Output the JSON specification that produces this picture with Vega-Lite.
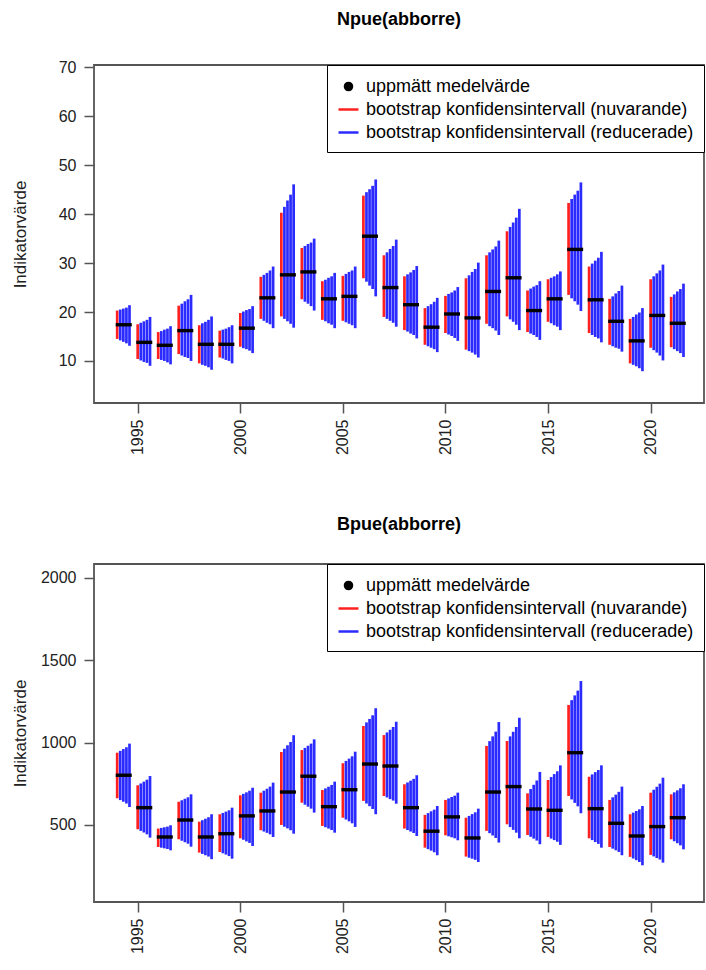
{
"$schema": "https://vega.github.io/schema/vega-lite/v6.json",
"padding": {"left": 10, "top": 10, "right": 0, "bottom": 0},
"config": {"font": "Liberation Sans", "view": {"stroke": "#555", "strokeWidth": 1.8}},
"datasets": {
"nb": [
{"y":1994,"k":0,"lo":14.5,"hi":20.3},{"y":1994,"k":1,"lo":14.2,"hi":20.5},{"y":1994,"k":2,"lo":13.9,"hi":20.7},{"y":1994,"k":3,"lo":13.6,"hi":20.9},{"y":1994,"k":4,"lo":13.1,"hi":21.4},
{"y":1995,"k":0,"lo":10.4,"hi":17.5},{"y":1995,"k":1,"lo":10.1,"hi":17.8},{"y":1995,"k":2,"lo":9.8,"hi":18.1},{"y":1995,"k":3,"lo":9.6,"hi":18.4},{"y":1995,"k":4,"lo":9.0,"hi":19.0},
{"y":1996,"k":0,"lo":10.4,"hi":15.9},{"y":1996,"k":1,"lo":10.2,"hi":16.1},{"y":1996,"k":2,"lo":10.0,"hi":16.4},{"y":1996,"k":3,"lo":9.7,"hi":16.6},{"y":1996,"k":4,"lo":9.3,"hi":17.1},
{"y":1997,"k":0,"lo":11.4,"hi":21.3},{"y":1997,"k":1,"lo":11.1,"hi":21.7},{"y":1997,"k":2,"lo":10.8,"hi":22.2},{"y":1997,"k":3,"lo":10.6,"hi":22.6},{"y":1997,"k":4,"lo":10.0,"hi":23.5},
{"y":1998,"k":0,"lo":9.5,"hi":17.3},{"y":1998,"k":1,"lo":9.2,"hi":17.7},{"y":1998,"k":2,"lo":9.0,"hi":18.0},{"y":1998,"k":3,"lo":8.7,"hi":18.4},{"y":1998,"k":4,"lo":8.2,"hi":19.1},
{"y":1999,"k":0,"lo":10.7,"hi":16.2},{"y":1999,"k":1,"lo":10.5,"hi":16.4},{"y":1999,"k":2,"lo":10.2,"hi":16.6},{"y":1999,"k":3,"lo":10.0,"hi":16.9},{"y":1999,"k":4,"lo":9.5,"hi":17.3},
{"y":2000,"k":0,"lo":12.9,"hi":19.8},{"y":2000,"k":1,"lo":12.6,"hi":20.1},{"y":2000,"k":2,"lo":12.4,"hi":20.4},{"y":2000,"k":3,"lo":12.1,"hi":20.6},{"y":2000,"k":4,"lo":11.6,"hi":21.2},
{"y":2001,"k":0,"lo":18.6,"hi":27.2},{"y":2001,"k":1,"lo":18.2,"hi":27.6},{"y":2001,"k":2,"lo":17.8,"hi":28.0},{"y":2001,"k":3,"lo":17.5,"hi":28.5},{"y":2001,"k":4,"lo":16.7,"hi":29.3},
{"y":2002,"k":0,"lo":19.1,"hi":40.3},{"y":2002,"k":1,"lo":18.6,"hi":41.5},{"y":2002,"k":2,"lo":18.1,"hi":42.8},{"y":2002,"k":3,"lo":17.6,"hi":44.0},{"y":2002,"k":4,"lo":16.8,"hi":46.1},
{"y":2003,"k":0,"lo":22.6,"hi":33.1},{"y":2003,"k":1,"lo":22.1,"hi":33.5},{"y":2003,"k":2,"lo":21.7,"hi":33.9},{"y":2003,"k":3,"lo":21.2,"hi":34.2},{"y":2003,"k":4,"lo":20.3,"hi":35.0},
{"y":2004,"k":0,"lo":18.4,"hi":26.3},{"y":2004,"k":1,"lo":18.1,"hi":26.6},{"y":2004,"k":2,"lo":17.7,"hi":27.0},{"y":2004,"k":3,"lo":17.4,"hi":27.3},{"y":2004,"k":4,"lo":16.7,"hi":28.0},
{"y":2005,"k":0,"lo":18.2,"hi":27.4},{"y":2005,"k":1,"lo":17.9,"hi":27.8},{"y":2005,"k":2,"lo":17.6,"hi":28.2},{"y":2005,"k":3,"lo":17.3,"hi":28.5},{"y":2005,"k":4,"lo":16.7,"hi":29.3},
{"y":2006,"k":0,"lo":26.9,"hi":43.8},{"y":2006,"k":1,"lo":26.2,"hi":44.5},{"y":2006,"k":2,"lo":25.4,"hi":45.1},{"y":2006,"k":3,"lo":24.7,"hi":45.8},{"y":2006,"k":4,"lo":23.2,"hi":47.1},
{"y":2007,"k":0,"lo":19.0,"hi":31.6},{"y":2007,"k":1,"lo":18.6,"hi":32.2},{"y":2007,"k":2,"lo":18.2,"hi":32.9},{"y":2007,"k":3,"lo":17.8,"hi":33.5},{"y":2007,"k":4,"lo":17.0,"hi":34.8},
{"y":2008,"k":0,"lo":16.3,"hi":27.3},{"y":2008,"k":1,"lo":16.0,"hi":27.7},{"y":2008,"k":2,"lo":15.6,"hi":28.1},{"y":2008,"k":3,"lo":15.3,"hi":28.6},{"y":2008,"k":4,"lo":14.6,"hi":29.4},
{"y":2009,"k":0,"lo":13.3,"hi":20.8},{"y":2009,"k":1,"lo":13.0,"hi":21.2},{"y":2009,"k":2,"lo":12.7,"hi":21.6},{"y":2009,"k":3,"lo":12.4,"hi":22.1},{"y":2009,"k":4,"lo":11.8,"hi":22.9},
{"y":2010,"k":0,"lo":15.7,"hi":23.3},{"y":2010,"k":1,"lo":15.4,"hi":23.7},{"y":2010,"k":2,"lo":15.1,"hi":24.0},{"y":2010,"k":3,"lo":14.7,"hi":24.4},{"y":2010,"k":4,"lo":14.1,"hi":25.1},
{"y":2011,"k":0,"lo":12.3,"hi":26.9},{"y":2011,"k":1,"lo":12.0,"hi":27.5},{"y":2011,"k":2,"lo":11.7,"hi":28.2},{"y":2011,"k":3,"lo":11.3,"hi":28.8},{"y":2011,"k":4,"lo":10.7,"hi":30.1},
{"y":2012,"k":0,"lo":17.6,"hi":31.6},{"y":2012,"k":1,"lo":17.1,"hi":32.2},{"y":2012,"k":2,"lo":16.7,"hi":32.8},{"y":2012,"k":3,"lo":16.2,"hi":33.4},{"y":2012,"k":4,"lo":15.3,"hi":34.6},
{"y":2013,"k":0,"lo":19.1,"hi":36.5},{"y":2013,"k":1,"lo":18.5,"hi":37.4},{"y":2013,"k":2,"lo":18.0,"hi":38.3},{"y":2013,"k":3,"lo":17.4,"hi":39.3},{"y":2013,"k":4,"lo":16.3,"hi":41.1},
{"y":2014,"k":0,"lo":15.9,"hi":24.4},{"y":2014,"k":1,"lo":15.6,"hi":24.8},{"y":2014,"k":2,"lo":15.3,"hi":25.2},{"y":2014,"k":3,"lo":14.9,"hi":25.5},{"y":2014,"k":4,"lo":14.3,"hi":26.3},
{"y":2015,"k":0,"lo":18.0,"hi":26.7},{"y":2015,"k":1,"lo":17.7,"hi":27.0},{"y":2015,"k":2,"lo":17.3,"hi":27.3},{"y":2015,"k":3,"lo":17.0,"hi":27.7},{"y":2015,"k":4,"lo":16.3,"hi":28.3},
{"y":2016,"k":0,"lo":23.5,"hi":42.3},{"y":2016,"k":1,"lo":22.8,"hi":43.1},{"y":2016,"k":2,"lo":22.2,"hi":44.0},{"y":2016,"k":3,"lo":21.5,"hi":44.8},{"y":2016,"k":4,"lo":20.2,"hi":46.5},
{"y":2017,"k":0,"lo":15.7,"hi":29.3},{"y":2017,"k":1,"lo":15.3,"hi":29.9},{"y":2017,"k":2,"lo":14.9,"hi":30.5},{"y":2017,"k":3,"lo":14.6,"hi":31.1},{"y":2017,"k":4,"lo":13.8,"hi":32.3},
{"y":2018,"k":0,"lo":13.3,"hi":22.7},{"y":2018,"k":1,"lo":13.0,"hi":23.2},{"y":2018,"k":2,"lo":12.7,"hi":23.8},{"y":2018,"k":3,"lo":12.5,"hi":24.3},{"y":2018,"k":4,"lo":11.9,"hi":25.4},
{"y":2019,"k":0,"lo":9.5,"hi":18.6},{"y":2019,"k":1,"lo":9.2,"hi":19.0},{"y":2019,"k":2,"lo":8.9,"hi":19.5},{"y":2019,"k":3,"lo":8.5,"hi":19.9},{"y":2019,"k":4,"lo":7.9,"hi":20.8},
{"y":2020,"k":0,"lo":12.7,"hi":26.7},{"y":2020,"k":1,"lo":12.2,"hi":27.3},{"y":2020,"k":2,"lo":11.7,"hi":27.9},{"y":2020,"k":3,"lo":11.1,"hi":28.5},{"y":2020,"k":4,"lo":10.1,"hi":29.7},
{"y":2021,"k":0,"lo":12.8,"hi":23.1},{"y":2021,"k":1,"lo":12.4,"hi":23.6},{"y":2021,"k":2,"lo":12.0,"hi":24.2},{"y":2021,"k":3,"lo":11.6,"hi":24.7},{"y":2021,"k":4,"lo":10.8,"hi":25.8}
],
"nm": [
{"y":1994,"m":17.4},{"y":1995,"m":13.8},{"y":1996,"m":13.2},{"y":1997,"m":16.2},{"y":1998,"m":13.4},{"y":1999,"m":13.4},{"y":2000,"m":16.7},
{"y":2001,"m":22.9},{"y":2002,"m":27.6},{"y":2003,"m":28.2},{"y":2004,"m":22.7},{"y":2005,"m":23.2},{"y":2006,"m":35.5},{"y":2007,"m":25.0},
{"y":2008,"m":21.5},{"y":2009,"m":16.9},{"y":2010,"m":19.6},{"y":2011,"m":18.8},{"y":2012,"m":24.2},{"y":2013,"m":27.0},{"y":2014,"m":20.3},
{"y":2015,"m":22.7},{"y":2016,"m":32.8},{"y":2017,"m":22.5},{"y":2018,"m":18.1},{"y":2019,"m":14.1},{"y":2020,"m":19.3},{"y":2021,"m":17.7}
],
"bb": [
{"y":1994,"k":0,"lo":662,"hi":939},{"y":1994,"k":1,"lo":651,"hi":950},{"y":1994,"k":2,"lo":641,"hi":961},{"y":1994,"k":3,"lo":630,"hi":972},{"y":1994,"k":4,"lo":609,"hi":994},
{"y":1995,"k":0,"lo":474,"hi":741},{"y":1995,"k":1,"lo":464,"hi":752},{"y":1995,"k":2,"lo":454,"hi":763},{"y":1995,"k":3,"lo":443,"hi":775},{"y":1995,"k":4,"lo":423,"hi":797},
{"y":1996,"k":0,"lo":366,"hi":478},{"y":1996,"k":1,"lo":362,"hi":482},{"y":1996,"k":2,"lo":358,"hi":486},{"y":1996,"k":3,"lo":354,"hi":490},{"y":1996,"k":4,"lo":346,"hi":498},
{"y":1997,"k":0,"lo":413,"hi":641},{"y":1997,"k":1,"lo":404,"hi":650},{"y":1997,"k":2,"lo":395,"hi":659},{"y":1997,"k":3,"lo":386,"hi":668},{"y":1997,"k":4,"lo":368,"hi":686},
{"y":1998,"k":0,"lo":332,"hi":520},{"y":1998,"k":1,"lo":324,"hi":529},{"y":1998,"k":2,"lo":316,"hi":538},{"y":1998,"k":3,"lo":308,"hi":547},{"y":1998,"k":4,"lo":292,"hi":565},
{"y":1999,"k":0,"lo":336,"hi":565},{"y":1999,"k":1,"lo":328,"hi":573},{"y":1999,"k":2,"lo":320,"hi":581},{"y":1999,"k":3,"lo":311,"hi":589},{"y":1999,"k":4,"lo":295,"hi":605},
{"y":2000,"k":0,"lo":419,"hi":680},{"y":2000,"k":1,"lo":410,"hi":689},{"y":2000,"k":2,"lo":400,"hi":698},{"y":2000,"k":3,"lo":391,"hi":708},{"y":2000,"k":4,"lo":372,"hi":726},
{"y":2001,"k":0,"lo":468,"hi":696},{"y":2001,"k":1,"lo":460,"hi":708},{"y":2001,"k":2,"lo":452,"hi":720},{"y":2001,"k":3,"lo":443,"hi":733},{"y":2001,"k":4,"lo":427,"hi":757},
{"y":2002,"k":0,"lo":500,"hi":943},{"y":2002,"k":1,"lo":489,"hi":963},{"y":2002,"k":2,"lo":479,"hi":984},{"y":2002,"k":3,"lo":468,"hi":1004},{"y":2002,"k":4,"lo":447,"hi":1045},
{"y":2003,"k":0,"lo":635,"hi":955},{"y":2003,"k":1,"lo":623,"hi":968},{"y":2003,"k":2,"lo":611,"hi":981},{"y":2003,"k":3,"lo":599,"hi":994},{"y":2003,"k":4,"lo":575,"hi":1020},
{"y":2004,"k":0,"lo":494,"hi":712},{"y":2004,"k":1,"lo":486,"hi":722},{"y":2004,"k":2,"lo":478,"hi":732},{"y":2004,"k":3,"lo":469,"hi":743},{"y":2004,"k":4,"lo":453,"hi":763},
{"y":2005,"k":0,"lo":544,"hi":875},{"y":2005,"k":1,"lo":533,"hi":889},{"y":2005,"k":2,"lo":522,"hi":903},{"y":2005,"k":3,"lo":510,"hi":917},{"y":2005,"k":4,"lo":488,"hi":945},
{"y":2006,"k":0,"lo":646,"hi":1101},{"y":2006,"k":1,"lo":630,"hi":1123},{"y":2006,"k":2,"lo":614,"hi":1144},{"y":2006,"k":3,"lo":597,"hi":1166},{"y":2006,"k":4,"lo":565,"hi":1209},
{"y":2007,"k":0,"lo":676,"hi":1046},{"y":2007,"k":1,"lo":667,"hi":1062},{"y":2007,"k":2,"lo":657,"hi":1078},{"y":2007,"k":3,"lo":648,"hi":1095},{"y":2007,"k":4,"lo":629,"hi":1127},
{"y":2008,"k":0,"lo":478,"hi":747},{"y":2008,"k":1,"lo":469,"hi":758},{"y":2008,"k":2,"lo":460,"hi":769},{"y":2008,"k":3,"lo":451,"hi":780},{"y":2008,"k":4,"lo":433,"hi":802},
{"y":2009,"k":0,"lo":362,"hi":561},{"y":2009,"k":1,"lo":353,"hi":572},{"y":2009,"k":2,"lo":344,"hi":583},{"y":2009,"k":3,"lo":334,"hi":593},{"y":2009,"k":4,"lo":316,"hi":615},
{"y":2010,"k":0,"lo":437,"hi":652},{"y":2010,"k":1,"lo":431,"hi":661},{"y":2010,"k":2,"lo":425,"hi":670},{"y":2010,"k":3,"lo":419,"hi":678},{"y":2010,"k":4,"lo":407,"hi":696},
{"y":2011,"k":0,"lo":308,"hi":544},{"y":2011,"k":1,"lo":301,"hi":555},{"y":2011,"k":2,"lo":295,"hi":566},{"y":2011,"k":3,"lo":288,"hi":577},{"y":2011,"k":4,"lo":275,"hi":599},
{"y":2012,"k":0,"lo":464,"hi":980},{"y":2012,"k":1,"lo":450,"hi":1009},{"y":2012,"k":2,"lo":436,"hi":1038},{"y":2012,"k":3,"lo":421,"hi":1067},{"y":2012,"k":4,"lo":393,"hi":1125},
{"y":2013,"k":0,"lo":504,"hi":1010},{"y":2013,"k":1,"lo":487,"hi":1038},{"y":2013,"k":2,"lo":470,"hi":1066},{"y":2013,"k":3,"lo":453,"hi":1095},{"y":2013,"k":4,"lo":419,"hi":1151},
{"y":2014,"k":0,"lo":439,"hi":692},{"y":2014,"k":1,"lo":428,"hi":718},{"y":2014,"k":2,"lo":417,"hi":744},{"y":2014,"k":3,"lo":405,"hi":770},{"y":2014,"k":4,"lo":383,"hi":822},
{"y":2015,"k":0,"lo":427,"hi":773},{"y":2015,"k":1,"lo":417,"hi":791},{"y":2015,"k":2,"lo":408,"hi":809},{"y":2015,"k":3,"lo":398,"hi":826},{"y":2015,"k":4,"lo":379,"hi":862},
{"y":2016,"k":0,"lo":676,"hi":1229},{"y":2016,"k":1,"lo":655,"hi":1258},{"y":2016,"k":2,"lo":634,"hi":1287},{"y":2016,"k":3,"lo":613,"hi":1316},{"y":2016,"k":4,"lo":571,"hi":1374},
{"y":2017,"k":0,"lo":419,"hi":793},{"y":2017,"k":1,"lo":408,"hi":807},{"y":2017,"k":2,"lo":396,"hi":821},{"y":2017,"k":3,"lo":385,"hi":834},{"y":2017,"k":4,"lo":362,"hi":862},
{"y":2018,"k":0,"lo":366,"hi":652},{"y":2018,"k":1,"lo":356,"hi":668},{"y":2018,"k":2,"lo":346,"hi":684},{"y":2018,"k":3,"lo":336,"hi":701},{"y":2018,"k":4,"lo":316,"hi":733},
{"y":2019,"k":0,"lo":306,"hi":565},{"y":2019,"k":1,"lo":296,"hi":575},{"y":2019,"k":2,"lo":286,"hi":585},{"y":2019,"k":3,"lo":275,"hi":595},{"y":2019,"k":4,"lo":255,"hi":615},
{"y":2020,"k":0,"lo":318,"hi":696},{"y":2020,"k":1,"lo":309,"hi":714},{"y":2020,"k":2,"lo":299,"hi":732},{"y":2020,"k":3,"lo":290,"hi":751},{"y":2020,"k":4,"lo":271,"hi":787},
{"y":2021,"k":0,"lo":413,"hi":686},{"y":2021,"k":1,"lo":401,"hi":698},{"y":2021,"k":2,"lo":389,"hi":710},{"y":2021,"k":3,"lo":376,"hi":723},{"y":2021,"k":4,"lo":352,"hi":747}
],
"bm": [
{"y":1994,"m":802},{"y":1995,"m":605},{"y":1996,"m":427},{"y":1997,"m":530},{"y":1998,"m":427},{"y":1999,"m":447},{"y":2000,"m":555},
{"y":2001,"m":585},{"y":2002,"m":700},{"y":2003,"m":796},{"y":2004,"m":611},{"y":2005,"m":714},{"y":2006,"m":870},{"y":2007,"m":858},
{"y":2008,"m":605},{"y":2009,"m":462},{"y":2010,"m":549},{"y":2011,"m":421},{"y":2012,"m":700},{"y":2013,"m":733},{"y":2014,"m":597},
{"y":2015,"m":589},{"y":2016,"m":939},{"y":2017,"m":599},{"y":2018,"m":510},{"y":2019,"m":433},{"y":2020,"m":490},{"y":2021,"m":544}
]
},
"resolve": {"scale": {"color": "independent"}, "legend": {"color": "independent"}},
"spacing": 58,
"vconcat": [
{
"width": 610, "height": 338,
"title": {"text": "Npue(abborre)", "fontSize": 18, "fontWeight": "bold", "font": "Liberation Sans", "color": "black", "offset": 30},
"layer": [
{
"data": {"name": "nb"},
"transform": [
{"calculate": "datum.y + 0.15*datum.k", "as": "xp"},
{"calculate": "datum.k == 0 ? 'bootstrap konfidensintervall (nuvarande)' : 'bootstrap konfidensintervall (reducerade)'", "as": "serie"}
],
"mark": {"type": "rule", "strokeWidth": 2.7},
"encoding": {
"x": {"field": "xp", "type": "quantitative", "scale": {"domain": [1992.87, 2022.6], "nice": false, "zero": false},
 "axis": {"title": null, "values": [1995, 2000, 2005, 2010, 2015, 2020], "format": "d", "labelAngle": 270, "labelAlign": "right", "labelBaseline": "middle", "labelFontSize": 16, "labelColor": "#222", "labelPadding": 6, "tickSize": 10, "tickColor": "#555", "tickWidth": 1.5, "domain": false, "grid": false, "labelFlush": false}},
"y": {"field": "lo", "type": "quantitative", "scale": {"domain": [1.4, 70.5], "nice": false, "zero": false},
 "axis": {"title": "Indikatorvärde", "titleFontSize": 17, "titleFontWeight": "normal", "titleColor": "#222", "titlePadding": 20, "values": [10, 20, 30, 40, 50, 60, 70], "format": "d", "labelFontSize": 16, "labelColor": "#222", "labelPadding": 8, "tickSize": 10, "tickColor": "#555", "tickWidth": 1.5, "domain": false, "grid": false, "labelFlush": false, "minExtent": 45, "maxExtent": 45}},
"y2": {"field": "hi"},
"color": {"field": "serie", "type": "nominal",
 "scale": {"domain": ["uppmätt medelvärde", "bootstrap konfidensintervall (nuvarande)", "bootstrap konfidensintervall (reducerade)"], "range": ["black", "#ff2020", "#2b2bff"]},
 "legend": {"title": null, "orient": "top-right", "offset": 0, "padding": 10, "strokeColor": "black", "fillColor": "white", "labelFontSize": 18, "labelColor": "black", "labelLimit": 600, "symbolType": "stroke", "symbolSize": 400, "symbolStrokeWidth": 2.5, "rowPadding": 2, "labelOffset": 6,
  "encode": {"symbols": {"update": {
   "shape": {"signal": "datum.value === 'uppmätt medelvärde' ? 'circle' : 'stroke'"},
   "size": {"signal": "datum.value === 'uppmätt medelvärde' ? 50 : 400"},
   "fill": {"signal": "datum.value === 'uppmätt medelvärde' ? 'black' : 'transparent'"},
   "stroke": {"signal": "datum.value === 'uppmätt medelvärde' ? 'black' : (datum.value === 'bootstrap konfidensintervall (nuvarande)' ? '#ff2020' : '#2b2bff')"}
  }}}}}
}
},
{
"data": {"name": "nm"},
"transform": [{"calculate": "datum.y - 0.07", "as": "xa"}, {"calculate": "datum.y + 0.71", "as": "xb"}],
"mark": {"type": "rule", "strokeWidth": 3.4},
"encoding": {
"x": {"field": "xa", "type": "quantitative"},
"x2": {"field": "xb"},
"y": {"field": "m", "type": "quantitative"},
"color": {"datum": "uppmätt medelvärde", "type": "nominal"}
}
}
]
},
{
"width": 610, "height": 338,
"title": {"text": "Bpue(abborre)", "fontSize": 18, "fontWeight": "bold", "font": "Liberation Sans", "color": "black", "offset": 30},
"layer": [
{
"data": {"name": "bb"},
"transform": [
{"calculate": "datum.y + 0.15*datum.k", "as": "xp"},
{"calculate": "datum.k == 0 ? 'bootstrap konfidensintervall (nuvarande)' : 'bootstrap konfidensintervall (reducerade)'", "as": "serie"}
],
"mark": {"type": "rule", "strokeWidth": 2.7},
"encoding": {
"x": {"field": "xp", "type": "quantitative", "scale": {"domain": [1992.87, 2022.6], "nice": false, "zero": false},
 "axis": {"title": null, "values": [1995, 2000, 2005, 2010, 2015, 2020], "format": "d", "labelAngle": 270, "labelAlign": "right", "labelBaseline": "middle", "labelFontSize": 16, "labelColor": "#222", "labelPadding": 6, "tickSize": 10, "tickColor": "#555", "tickWidth": 1.5, "domain": false, "grid": false, "labelFlush": false}},
"y": {"field": "lo", "type": "quantitative", "scale": {"domain": [32, 2085], "nice": false, "zero": false},
 "axis": {"title": "Indikatorvärde", "titleFontSize": 17, "titleFontWeight": "normal", "titleColor": "#222", "titlePadding": 20, "values": [500, 1000, 1500, 2000], "format": "d", "labelFontSize": 16, "labelColor": "#222", "labelPadding": 8, "tickSize": 10, "tickColor": "#555", "tickWidth": 1.5, "domain": false, "grid": false, "labelFlush": false, "minExtent": 45, "maxExtent": 45}},
"y2": {"field": "hi"},
"color": {"field": "serie", "type": "nominal",
 "scale": {"domain": ["uppmätt medelvärde", "bootstrap konfidensintervall (nuvarande)", "bootstrap konfidensintervall (reducerade)"], "range": ["black", "#ff2020", "#2b2bff"]},
 "legend": {"title": null, "orient": "top-right", "offset": 0, "padding": 10, "strokeColor": "black", "fillColor": "white", "labelFontSize": 18, "labelColor": "black", "labelLimit": 600, "symbolType": "stroke", "symbolSize": 400, "symbolStrokeWidth": 2.5, "rowPadding": 2, "labelOffset": 6,
  "encode": {"symbols": {"update": {
   "shape": {"signal": "datum.value === 'uppmätt medelvärde' ? 'circle' : 'stroke'"},
   "size": {"signal": "datum.value === 'uppmätt medelvärde' ? 50 : 400"},
   "fill": {"signal": "datum.value === 'uppmätt medelvärde' ? 'black' : 'transparent'"},
   "stroke": {"signal": "datum.value === 'uppmätt medelvärde' ? 'black' : (datum.value === 'bootstrap konfidensintervall (nuvarande)' ? '#ff2020' : '#2b2bff')"}
  }}}}}
}
},
{
"data": {"name": "bm"},
"transform": [{"calculate": "datum.y - 0.07", "as": "xa"}, {"calculate": "datum.y + 0.71", "as": "xb"}],
"mark": {"type": "rule", "strokeWidth": 3.4},
"encoding": {
"x": {"field": "xa", "type": "quantitative"},
"x2": {"field": "xb"},
"y": {"field": "m", "type": "quantitative"},
"color": {"datum": "uppmätt medelvärde", "type": "nominal"}
}
}
]
}
]
}
